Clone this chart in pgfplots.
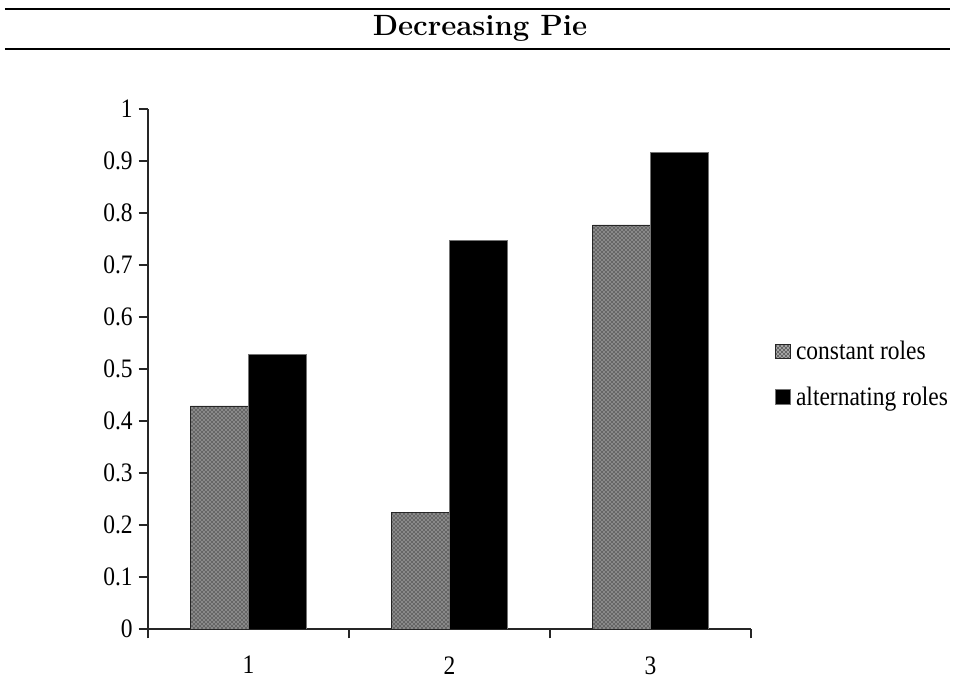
\documentclass[border=0pt]{standalone}
\usepackage{pgfplots}
\pgfplotsset{compat=1.18}
\usepackage{fontspec}
\usetikzlibrary{patterns}
\newfontfamily\tnr[FakeStretch=0.88]{Liberation Serif}
\newcommand{\tickfont}{\tnr\fontsize{20}{24}\selectfont}
\begin{document}
\begin{tikzpicture}
\useasboundingbox (-111pt,-44.25pt) rectangle (604.5pt,471.75pt);
% title block
\draw[line width=1.8pt] (-107.25pt,465pt) -- (601.5pt,465pt);
\draw[line width=1.8pt] (-107.25pt,435pt) -- (601.5pt,435pt);
\node[anchor=base, inner sep=0pt] at (249pt,444.75pt) {\fontsize{22}{26}\selectfont\bfseries Decreasing Pie};
\begin{axis}[
  at={(0pt,0pt)}, anchor=south west, scale only axis,
  width=452.25pt, height=390pt,
  xmin=0.5, xmax=3.5, ymin=0, ymax=1,
  ybar=0pt, bar width=43.5pt,
  axis lines=left,
  axis line style={-, line width=1.1pt, black!85},
  tick style={line width=1.1pt, black!85},
  tick align=outside, major tick length=7pt,
  /pgf/number format/assume math mode=true,
  tick label style={font=\tickfont},
  ytick={0,0.1,0.2,0.3,0.4,0.5,0.6,0.7,0.8,0.9,1},
  yticklabels={0,0.1,0.2,0.3,0.4,0.5,0.6,0.7,0.8,0.9,1},
  yticklabel style={xshift=-1pt},
  xtick={0.5,1.5,2.5,3.5}, xticklabels={},
  extra x ticks={1,2,3}, extra x tick labels={1,2,3},
  extra x tick style={major tick length=0pt, tick label style={yshift=-17pt}},
  legend style={at={(rel axis cs:1,0.49)}, anchor=west, xshift=15pt,
    draw=none, fill=none, font=\tickfont, row sep=15pt,
    nodes={inner ysep=2pt, inner xsep=4pt}},
  legend cell align=left,
]
\addplot[fill=black!60, draw=black!85, line width=0.6pt,
  postaction={pattern=crosshatch dots, pattern color=white},
  legend image code/.code={\draw[fill=black!60, draw=black!85, line width=0.6pt, postaction={pattern=crosshatch dots, pattern color=white}] (0pt,-5.5pt) rectangle (11pt,5.5pt);}]
  coordinates {(1,0.429) (2,0.224) (3,0.777)};
\addlegendentry{constant roles}
\addplot[fill=black, draw=black!55, line width=0.6pt,
  legend image code/.code={\draw[fill=black, draw=black!55, line width=0.6pt] (0pt,-5.5pt) rectangle (11pt,5.5pt);}]
  coordinates {(1,0.528) (2,0.747) (3,0.917)};
\addlegendentry{alternating roles}
\end{axis}
\end{tikzpicture}
\end{document}
